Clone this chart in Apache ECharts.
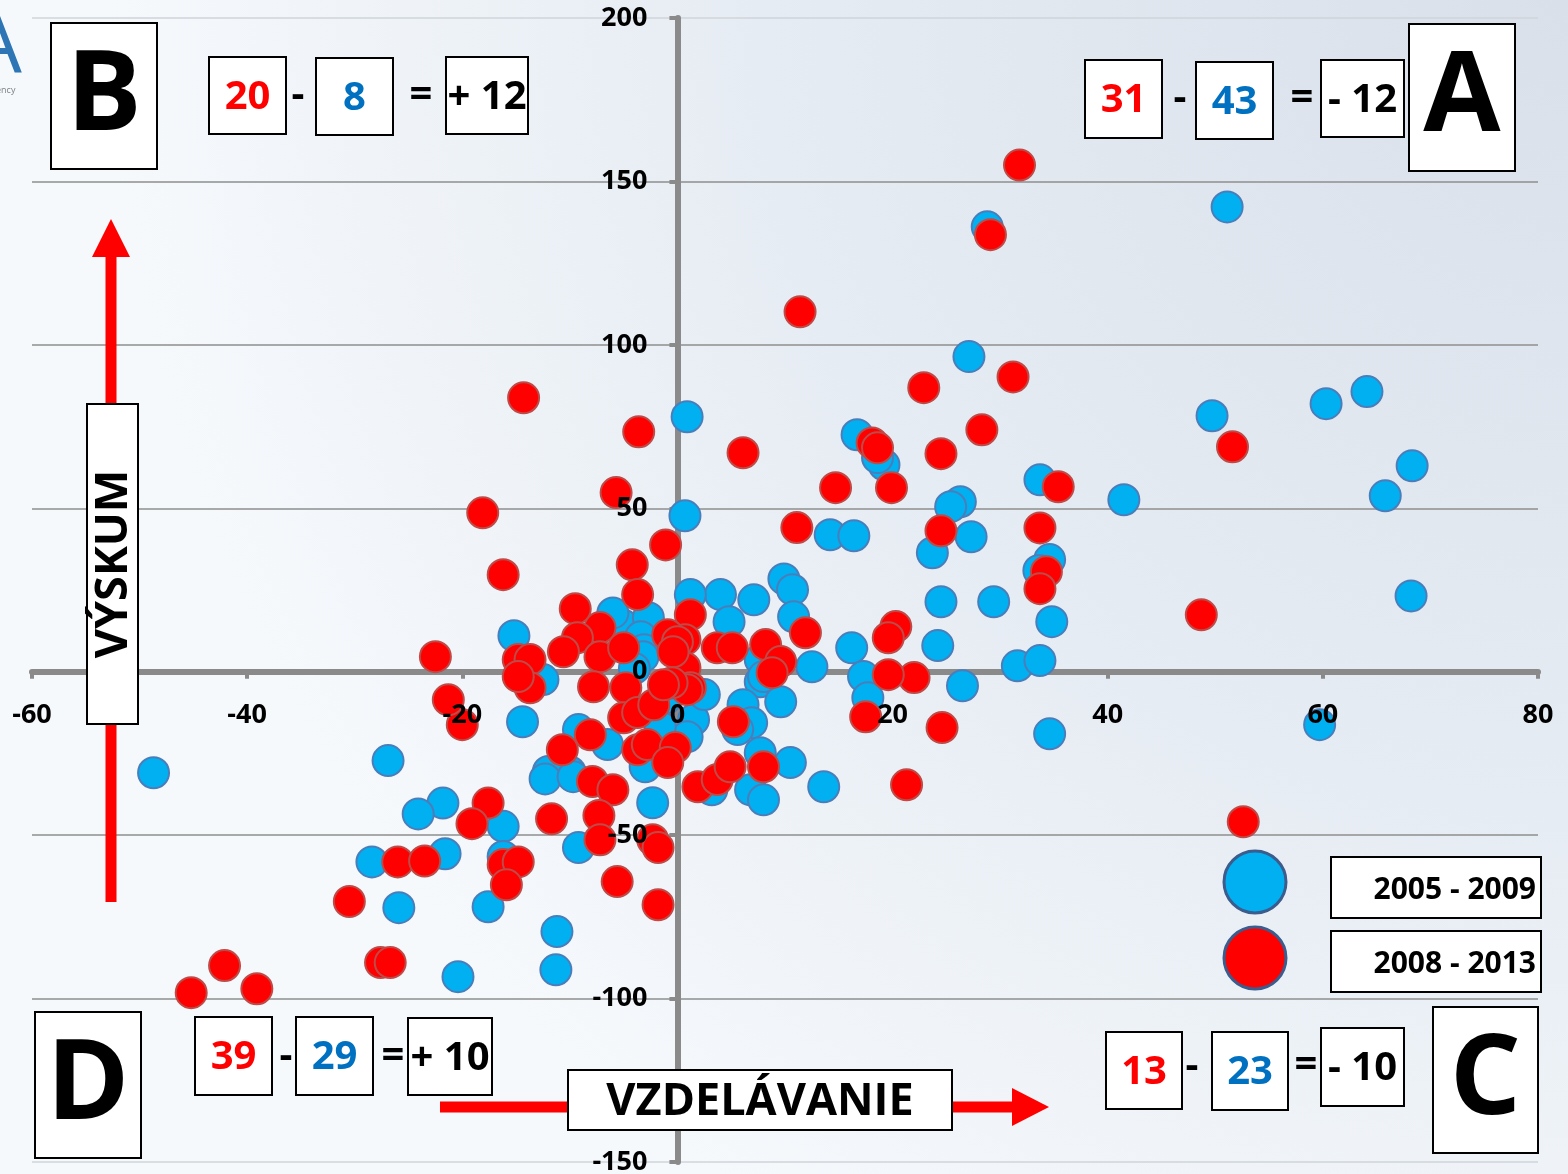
<!DOCTYPE html>
<html>
<head>
<meta charset="utf-8">
<title>Výskum / Vzdelávanie</title>
<script src="https://cdn.jsdelivr.net/npm/echarts@6/dist/echarts.min.js"></script>
<style>
  html, body { margin: 0; padding: 0; }
  #chart { width: 1568px; height: 1174px; }
</style>
</head>
<body>
<div id="chart"></div>
<script>
// axis ticks
const xTicks = [-60, -40, -20, 0, 20, 40, 60, 80];
const yTicks = [-150, -100, -50, 0, 50, 100, 150, 200];

const seriesNames = ['2005 - 2009', '2008 - 2013'];

// [vzdelávanie, výskum]
const blue0509 = [
  [51.1, 142.2], [28.8, 136.1], [27.1, 96.4], [49.7, 78.3], [60.3, 82.0], [64.1, 85.7],
  [68.3, 63.0], [65.8, 53.8], [41.5, 52.6], [68.2, 23.2], [59.7, -16.2], [34.6, -19.0],
  [33.7, 58.7], [26.3, 52.0], [25.4, 50.5], [27.3, 41.3], [23.7, 36.4], [34.6, 34.3],
  [33.6, 31.0], [24.5, 21.4], [29.4, 21.4], [34.8, 15.3], [24.2, 8.0], [31.6, 1.8],
  [33.7, 3.4], [26.5, -4.3], [16.7, 72.5], [19.2, 63.3], [18.6, 65.5], [14.2, 41.9],
  [16.4, 41.6], [16.2, 7.3], [17.3, -1.5], [17.7, -8.0], [9.9, 28.4], [10.7, 25.1],
  [10.8, 16.8], [12.5, 1.5], [4.0, 23.6], [7.1, 22.0], [4.8, 15.3], [1.2, 23.6],
  [7.7, 3.7], [7.7, -3.1], [8.0, -1.5], [9.6, -9.2], [6.1, -10.1], [6.9, -15.6],
  [0.9, 78.0], [0.7, 47.7], [1.5, -14.7], [0.9, -19.9], [-3.0, -29.1], [-2.3, -40.1],
  [6.8, -36.1], [8.0, -39.2], [10.5, -27.8], [13.6, -35.2], [7.7, -24.8], [3.2, -36.1],
  [5.6, -17.7], [-15.2, 11.0], [-5.1, 14.4], [-2.7, 16.5], [-3.4, 10.7], [-3.1, 6.7],
  [-3.2, 4.6], [-12.5, -2.4], [-14.4, -15.3], [-9.2, -17.7], [-6.5, -22.3], [-10.0, -30.6],
  [-12.0, -30.5], [-12.3, -32.8], [-9.7, -32.1], [-26.9, -27.2], [-48.7, -30.9], [-21.8, -40.2],
  [-24.1, -43.5], [-16.2, -47.3], [-21.6, -55.7], [-28.4, -58.2], [-16.2, -56.5], [-9.2, -53.8],
  [-25.9, -72.2], [-17.6, -71.9], [-11.2, -79.5], [-20.4, -93.3], [-11.3, -91.2], [-1.6, -16.8],
  [-4.0, 1.0], [-1.0, -8.0], [-6.0, 18.0], [2.5, -7.0]
];

const red0813 = [
  [31.8, 155.0], [29.1, 133.7], [11.4, 110.1], [31.2, 90.2], [22.9, 86.9], [28.3, 74.0],
  [24.5, 66.7], [51.6, 68.8], [35.4, 56.6], [24.5, 43.1], [33.7, 44.0], [34.3, 30.6],
  [33.7, 25.4], [48.7, 17.4], [22.0, -1.8], [19.6, -0.9], [20.3, 13.8], [19.6, 10.4],
  [17.5, -13.8], [24.6, -17.1], [21.3, -34.6], [52.6, -45.9], [6.1, 67.0], [18.1, 70.0],
  [18.6, 68.5], [19.9, 56.3], [14.7, 56.3], [11.1, 44.1], [11.9, 11.9], [3.7, 7.3],
  [5.1, 7.3], [8.2, 8.3], [9.6, 3.1], [8.8, -0.3], [5.2, -15.3], [1.2, 17.4],
  [0.7, 9.8], [0.7, 1.2], [1.2, -4.9], [-16.2, 29.7], [-4.2, 32.7], [-3.7, 23.6],
  [-9.5, 19.3], [-0.9, 11.3], [0.0, 9.2], [-0.4, 6.1], [0.9, -5.5], [-0.5, -3.4],
  [-7.2, 13.5], [-9.3, 10.4], [-10.6, 6.1], [-7.2, 4.6], [-5.0, 7.3], [-14.8, 3.7],
  [-13.7, 3.7], [-13.7, -4.9], [-14.8, -1.5], [-7.8, -4.6], [-4.8, -4.9], [-5.0, -14.1],
  [-3.7, -12.5], [-2.2, -10.1], [-10.7, -23.9], [-8.1, -19.3], [-3.7, -23.9], [-2.8, -22.3],
  [-0.2, -23.2], [-0.9, -27.8], [-7.9, -33.6], [-6.0, -36.1], [-11.7, -45.0], [-7.3, -44.0],
  [1.9, -35.2], [3.7, -33.0], [4.9, -29.1], [8.0, -29.1], [-7.2, -51.4], [-2.3, -51.4],
  [-1.8, -53.8], [-5.6, -64.2], [-1.8, -71.3], [-20.0, -16.2], [-21.3, -8.6], [-22.5, 4.6],
  [-14.3, 83.8], [-3.6, 73.4], [-5.7, 54.8], [-18.1, 48.6], [-1.1, 38.8], [-17.6, -40.2],
  [-19.1, -46.5], [-26.0, -58.2], [-23.5, -57.9], [-16.2, -59.0], [-14.8, -58.2], [-15.9, -65.2],
  [-30.5, -70.3], [-27.6, -89.0], [-26.7, -89.0], [-42.1, -89.9], [-45.2, -98.2], [-39.1, -97.0],
  [-1.3, -4.0]
];

// counts per quadrant
const quadrants = ['A', 'B', 'C', 'D'];
const redCounts = [31, 20, 13, 39];
const blueCounts = [43, 8, 23, 29];

const FONT = '"Open Sans", "DejaVu Sans", sans-serif';
const RED = '#ff0000';
const BLUE_TXT = '#0070c0';

// where the boxes of each quadrant sit on the page
const quadLayout = {
  A: { letter: [1409, 24, 1515, 171], red: [1085, 60, 1162, 138], minus: [1180, 99], blue: [1196, 62, 1273, 139], eq: [1302, 99], diff: [1321, 60, 1404, 137] },
  B: { letter: [51, 23, 157, 169], red: [209, 57, 286, 134], minus: [298, 96], blue: [316, 58, 393, 135], eq: [421, 96], diff: [446, 57, 528, 134] },
  C: { letter: [1433, 1007, 1538, 1153], red: [1106, 1032, 1182, 1109], minus: [1192, 1067], blue: [1212, 1032, 1288, 1110], eq: [1306, 1066], diff: [1321, 1028, 1404, 1106] },
  D: { letter: [35, 1012, 141, 1158], red: [195, 1017, 272, 1095], minus: [286, 1057], blue: [296, 1017, 373, 1095], eq: [393, 1057], diff: [408, 1018, 492, 1095] }
};

function box(r, txt, color, size) {
  return [
    { type: 'rect', shape: { x: r[0], y: r[1], width: r[2] - r[0], height: r[3] - r[1] },
      style: { fill: '#fff', stroke: '#000', lineWidth: 2 } },
    { type: 'text', x: (r[0] + r[2]) / 2, y: (r[1] + r[3]) / 2 + 2,
      style: { text: txt, fill: color, fontSize: size, fontWeight: 'bold', fontFamily: FONT, align: 'center', verticalAlign: 'middle' } }
  ];
}
function sym(p, ch) {
  return { type: 'text', x: p[0], y: p[1],
    style: { text: ch, fill: '#000', fontSize: 40, fontWeight: 'bold', fontFamily: FONT, align: 'center', verticalAlign: 'middle' } };
}

let elements = [];
quadrants.forEach(function (q, i) {
  const L = quadLayout[q];
  const d = redCounts[i] - blueCounts[i];
  const diffTxt = (d >= 0 ? '+ ' : '- ') + Math.abs(d);
  elements = elements.concat(
    box(L.letter, q, '#000', 112),
    box(L.red, String(redCounts[i]), RED, 40),
    [sym(L.minus, '-')],
    box(L.blue, String(blueCounts[i]), BLUE_TXT, 40),
    [sym(L.eq, '=')],
    box(L.diff, diffTxt, '#000', 40)
  );
});

// arrows + axis titles
elements.push(
  { type: 'line', shape: { x1: 111, y1: 902, x2: 111, y2: 250 }, style: { stroke: RED, lineWidth: 11 } },
  { type: 'polygon', shape: { points: [[92, 257], [111, 219], [130, 257]] }, style: { fill: RED } },
  { type: 'rect', shape: { x: 87, y: 404, width: 51, height: 320 }, style: { fill: '#fff', stroke: '#000', lineWidth: 2 } },
  { type: 'text', x: 114, y: 564, rotation: Math.PI / 2,
    style: { text: 'VÝSKUM', fill: '#000', fontSize: 45, fontWeight: 'bold', fontFamily: FONT, align: 'center', verticalAlign: 'middle' } },
  { type: 'line', shape: { x1: 440, y1: 1107, x2: 1016, y2: 1107 }, style: { stroke: RED, lineWidth: 11 } },
  { type: 'polygon', shape: { points: [[1012, 1088], [1049, 1107], [1012, 1126]] }, style: { fill: RED } },
  { type: 'rect', shape: { x: 568, y: 1070, width: 384, height: 60 }, style: { fill: '#fff', stroke: '#000', lineWidth: 2 } },
  { type: 'text', x: 760, y: 1102,
    style: { text: 'VZDELÁVANIE', fill: '#000', fontSize: 45, fontWeight: 'bold', fontFamily: FONT, align: 'center', verticalAlign: 'middle' } }
);

// legend
elements.push(
  { type: 'circle', shape: { cx: 1255, cy: 882, r: 31 }, style: { fill: '#00b0f0', stroke: '#3b5c8c', lineWidth: 3 } },
  { type: 'circle', shape: { cx: 1255, cy: 958, r: 31 }, style: { fill: '#ff0000', stroke: '#3b5c8c', lineWidth: 3 } },
  { type: 'rect', shape: { x: 1331, y: 857, width: 210, height: 61 }, style: { fill: '#fff', stroke: '#000', lineWidth: 2 } },
  { type: 'rect', shape: { x: 1331, y: 931, width: 210, height: 61 }, style: { fill: '#fff', stroke: '#000', lineWidth: 2 } },
  { type: 'text', x: 1536, y: 890,
    style: { text: seriesNames[0], fill: '#000', fontSize: 30, fontWeight: 'bold', fontFamily: FONT, align: 'right', verticalAlign: 'middle' } },
  { type: 'text', x: 1536, y: 964,
    style: { text: seriesNames[1], fill: '#000', fontSize: 30, fontWeight: 'bold', fontFamily: FONT, align: 'right', verticalAlign: 'middle' } }
);

// bit of the logo cut by the left edge
elements.push(
  { type: 'text', x: -30, y: 50,
    style: { text: 'A', fill: '#2e75b6', fontSize: 82, fontFamily: FONT, align: 'left', verticalAlign: 'middle' } },
  { type: 'text', x: -4, y: 90,
    style: { text: 'ency', fill: '#7f7f7f', fontSize: 9, fontFamily: FONT, align: 'left', verticalAlign: 'middle' } }
);

const xLabelStyle = { fontSize: 27, fontWeight: 'bold', color: '#000', fontFamily: FONT, margin: 30 };
const yLabelStyle = { fontSize: 27, fontWeight: 'bold', color: '#000', fontFamily: FONT, margin: 30 };

const chart = echarts.init(document.getElementById('chart'));
const option = {
  animation: false,
  backgroundColor: {
    type: 'radial', x: 1, y: 0, r: 1.25,
    colorStops: [
      { offset: 0, color: '#d9e0ea' },
      { offset: 0.55, color: '#e6ecf3' },
      { offset: 1, color: '#f6f9fc' }
    ]
  },
  grid: { left: 32, right: 30, top: 18, bottom: 12, containLabel: false, outerBoundsMode: 'none' },
  xAxis: [
    {
      type: 'value', min: xTicks[0], max: xTicks[xTicks.length - 1], interval: xTicks[1] - xTicks[0],
      axisLine: { onZero: true, lineStyle: { color: '#8a8a8a', width: 6 } },
      axisTick: { show: true, length: 7, lineStyle: { color: '#8a8a8a', width: 4 } },
      axisLabel: { show: false },
      splitLine: { show: false }
    },
    // label-only copy, drawn above the points
    {
      type: 'value', position: 'bottom', z: 10, offset: 0,
      min: xTicks[0], max: xTicks[xTicks.length - 1], interval: xTicks[1] - xTicks[0],
      axisLine: { show: false, onZero: false },
      axisTick: { show: false },
      axisLabel: xLabelStyle,
      splitLine: { show: false }
    }
  ],
  yAxis: [
    {
      type: 'value', min: yTicks[0], max: yTicks[yTicks.length - 1], interval: yTicks[1] - yTicks[0],
      axisLine: { onZero: true, lineStyle: { color: '#8a8a8a', width: 6 } },
      axisTick: { show: true, length: 8, lineStyle: { color: '#8a8a8a', width: 4 } },
      axisLabel: { show: false },
      splitLine: {
        show: true,
        lineStyle: {
          width: 1.5,
          color: ['#cfd4da', '#8e8e8e', '#8e8e8e', '#8e8e8e', '#8e8e8e', '#8e8e8e', '#8e8e8e', '#cfd4da']
        }
      }
    },
    {
      type: 'value', position: 'left', z: 10, offset: 0,
      min: yTicks[0], max: yTicks[yTicks.length - 1], interval: yTicks[1] - yTicks[0],
      axisLine: { show: false, onZero: false },
      axisTick: { show: false },
      axisLabel: yLabelStyle,
      splitLine: { show: false }
    }
  ],
  series: [
    {
      name: seriesNames[0], type: 'scatter', data: blue0509, symbolSize: 31, z: 3,
      itemStyle: { color: '#00b0f0', borderColor: '#4a7ebb', borderWidth: 2, opacity: 1 },
      emphasis: { disabled: true }
    },
    {
      name: seriesNames[1], type: 'scatter', data: red0813, symbolSize: 31, z: 4,
      itemStyle: { color: '#ff0000', borderColor: '#be4b48', borderWidth: 2, opacity: 1 },
      emphasis: { disabled: true }
    }
  ],
  graphic: { elements: elements.map(function (e) { e.z = 100; return e; }) }
};
chart.setOption(option);

// move the label-only axes onto the zero lines, using the chart's own scales
const zero = chart.convertToPixel({ xAxisIndex: 0, yAxisIndex: 0 }, [0, 0]);
const corner = chart.convertToPixel({ xAxisIndex: 0, yAxisIndex: 0 }, [xTicks[0], yTicks[0]]);
chart.setOption({
  xAxis: [{}, { offset: -(corner[1] - zero[1]) }],
  yAxis: [{}, { offset: -(zero[0] - corner[0]) }]
});

window.addEventListener('resize', function () { chart.resize(); });
</script>
</body>
</html>
